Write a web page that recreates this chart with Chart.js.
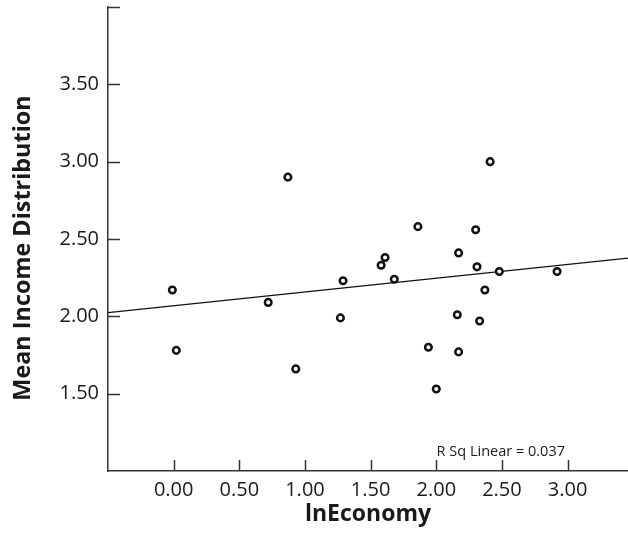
<!DOCTYPE html>
<html>
<head>
<meta charset="utf-8">
<script src="https://cdn.jsdelivr.net/npm/chart.js@4.4.1/dist/chart.umd.min.js"></script>
<style>
  html, body { margin: 0; padding: 0; background: #fff; }
  #wrap { width: 628px; height: 535px; }
</style>
</head>
<body>
<div id="wrap"><canvas id="c"></canvas></div>
<script>
/* ─── Data ─── */
const LN_ECONOMY = [-0.01, 0.02, 0.72, 0.87, 0.93, 1.29, 1.27, 1.58, 1.61, 1.68,
                    1.86, 1.94, 2.00, 2.17, 2.16, 2.17, 2.30, 2.31, 2.33, 2.37,
                    2.41, 2.48, 2.92];
const MEAN_INCOME = [2.17, 1.78, 2.09, 2.90, 1.66, 2.23, 1.99, 2.33, 2.38, 2.24,
                     2.58, 1.80, 1.53, 2.41, 2.01, 1.77, 2.56, 2.32, 1.97, 2.17,
                     3.00, 2.29, 2.29];
const X_TICKS = [-0.5, 0, 0.5, 1.0, 1.5, 2.0, 2.5, 3.0];
const Y_TICKS = [1.0, 1.5, 2.0, 2.5, 3.0, 3.5, 4.0];
const X_MIN = -0.5, X_MAX = 3.46;
const Y_MIN = 1.0, Y_MAX = 4.0;
const FIT_INTERCEPT = 2.069;
const FIT_SLOPE = 0.089;
const R_SQ = 0.037;
const Y_TITLE = 'Mean Income Distribution';
const X_TITLE = 'lnEconomy';

const INK = '#1a1a1a';
const FONT = "'Open Sans', sans-serif";

const points = LN_ECONOMY.map((x, i) => ({ x, y: MEAN_INCOME[i] }));
const fitLine = [X_MIN, X_MAX].map(x => ({ x, y: FIT_INTERCEPT + FIT_SLOPE * x }));

/* ─── Inward tick marks, y title, R² note ─── */
const spssAxes = {
  id: 'spssAxes',
  afterDraw(chart) {
    const { ctx, chartArea: a, scales: { x, y } } = chart;
    ctx.save();
    ctx.strokeStyle = '#333';
    ctx.lineWidth = 1.5;
    ctx.beginPath();
    X_TICKS.forEach(v => {
      if (v <= X_MIN) return;
      const px = Math.round(x.getPixelForValue(v)) + 0.5;
      ctx.moveTo(px, a.bottom);
      ctx.lineTo(px, a.bottom - 11);
    });
    Y_TICKS.forEach(v => {
      if (v <= Y_MIN) return;
      const py = Math.round(y.getPixelForValue(v)) + 0.5;
      ctx.moveTo(a.left, py);
      ctx.lineTo(a.left + 12, py);
    });
    ctx.stroke();

    ctx.fillStyle = INK;
    ctx.font = "14.5px " + FONT;
    ctx.textAlign = 'right';
    ctx.textBaseline = 'middle';
    ctx.fillText('R Sq Linear = ' + R_SQ.toFixed(3), x.getPixelForValue(2.98), a.bottom - 19);

    // y title sits a little below the plot's centre, as in SPSS output
    ctx.translate(23, (a.top + a.bottom) / 2 + 9);
    ctx.rotate(-Math.PI / 2);
    ctx.textAlign = 'center';
    ctx.font = "bold 23.4px " + FONT;
    ctx.fillText(Y_TITLE, 0, 0);
    ctx.restore();
  },
};

new Chart(document.getElementById('c'), {
  type: 'scatter',
  data: {
    datasets: [
      {
        label: 'Fit',
        type: 'line',
        data: fitLine,
        borderColor: '#111',
        borderWidth: 1.3,
        pointRadius: 0,
        fill: false,
        order: 2,
      },
      {
        label: Y_TITLE,
        data: points,
        pointRadius: 3.3,
        borderWidth: 2.5,
        borderColor: '#111',
        backgroundColor: '#fff',
        order: 1,
      },
    ],
  },
  options: {
    responsive: true,
    maintainAspectRatio: false,
    animation: false,
    layout: { autoPadding: false, padding: { top: 7, right: 0, left: 0, bottom: 0 } },
    plugins: {
      legend: { display: false },
      tooltip: { enabled: false },
    },
    scales: {
      x: {
        type: 'linear',
        min: X_MIN,
        max: X_MAX,
        afterBuildTicks: s => { s.ticks = X_TICKS.map(value => ({ value })); },
        afterFit: s => { s.height = 64; s.paddingLeft = 0; s.paddingRight = 0; },
        grid: { color: 'transparent', drawTicks: false },
        border: { display: true, color: '#333', width: 1.5 },
        ticks: {
          padding: 7,
          color: INK,
          font: { family: FONT, size: 20 },
          callback: v => (v <= X_MIN ? '' : v.toFixed(2)),
          maxRotation: 0,
        },
        title: {
          display: true,
          text: X_TITLE,
          color: INK,
          font: { family: FONT, size: 23, weight: 'bold' },
          padding: { top: 7, bottom: 7 },
        },
      },
      y: {
        type: 'linear',
        min: Y_MIN,
        max: Y_MAX,
        afterBuildTicks: s => { s.ticks = Y_TICKS.map(value => ({ value })); },
        afterFit: s => { s.width = 108; s.paddingTop = 0; s.paddingBottom = 0; },
        grid: { color: 'transparent', drawTicks: false },
        border: { display: true, color: '#333', width: 1.5 },
        ticks: {
          padding: 9,
          color: INK,
          font: { family: FONT, size: 20 },
          callback: v => (v <= Y_MIN || v >= Y_MAX ? '' : v.toFixed(2)),
        },
        title: { display: false },
      },
    },
  },
  plugins: [spssAxes],
});
</script>
</body>
</html>
